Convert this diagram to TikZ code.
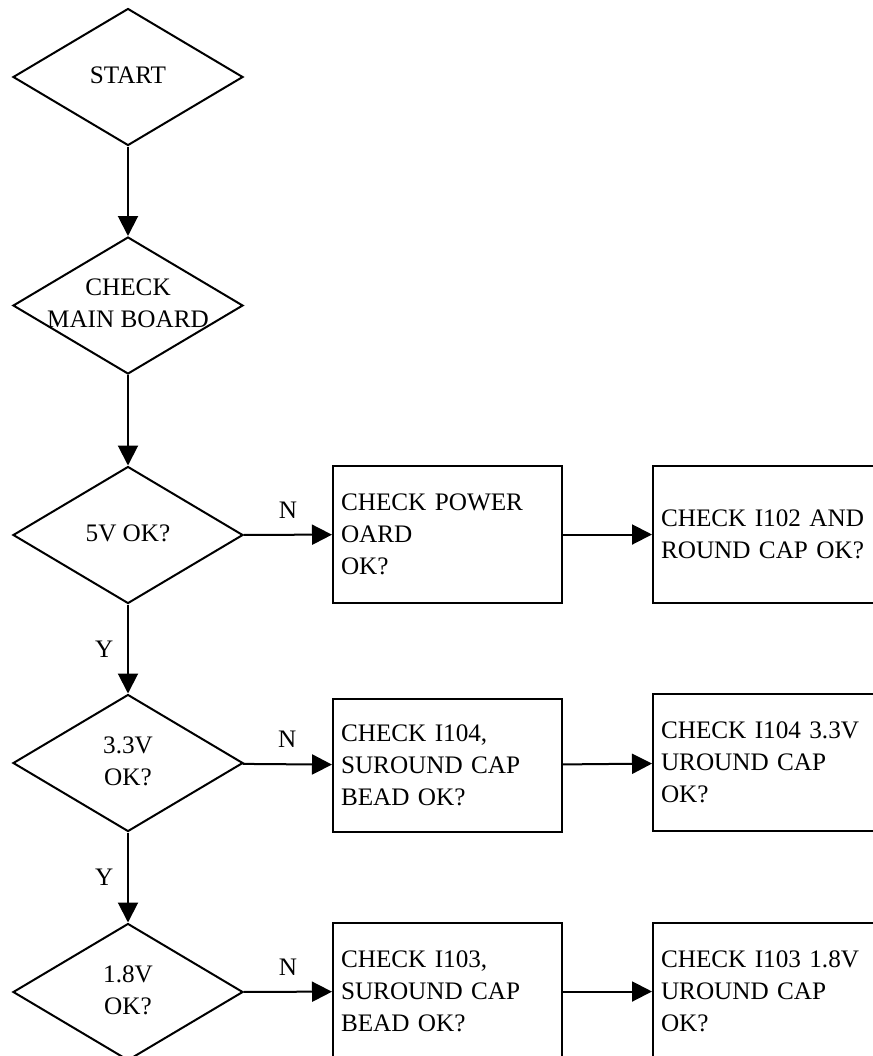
\documentclass[tikz,border=0pt]{standalone}
\usepackage{fontspec}
\setmainfont{Liberation Serif}
\usetikzlibrary{arrows.meta, shapes.geometric}
% zero-width centred text, so long lines may run over the diamond
\newcommand{\dtext}[1]{\makebox[0pt]{\begin{tabular}{@{}c@{}}#1\end{tabular}}}
\tikzset{
  decision/.style={draw, diamond, line width=1pt, minimum width=115pt,
    minimum height=68.5pt, inner sep=0pt},
  checkbox/.style={draw, rectangle, line width=1pt, minimum height=68.5pt,
    text width=106.5pt, inner xsep=4pt, inner ysep=0pt, align=left},
  flow/.style={-{Triangle[length=10pt,width=10pt]}, line width=1pt}
}

\begin{document}
\begin{tikzpicture}[x=0.5pt, y=-0.5pt, font=\fontsize{12.6}{16}\selectfont]
  \useasboundingbox (0,0) rectangle (873,1056);
  % Main column
  \node[decision] (st) at (128,77) {\dtext{START}};
  \node[decision] (mb) at (128,305.5) {\dtext{CHECK\\MAIN BOARD}};
  \node[decision] (v5) at (128,535) {\dtext{5V OK?}};
  \node[decision] (v33) at (128,763) {\dtext{3.3V\\OK?}};
  \node[decision] (v18) at (128,992) {\dtext{1.8V\\OK?}};
  % Checks
  \node[checkbox] (pb) at (447.5,534.5) {CHECK POWER\\OARD\\OK?};
  \node[checkbox] (i102) at (767.5,534.5) {CHECK I102 AND\\ROUND CAP OK?};
  \node[checkbox, minimum height=66.5pt] (i104) at (447.5,765.5)
        {CHECK I104,\\SUROUND CAP\\BEAD OK?};
  \node[checkbox] (i104v) at (767.5,762.5) {CHECK I104 3.3V\\UROUND CAP\\OK?};
  \node[checkbox] (i103) at (447.5,991.5) {CHECK I103,\\SUROUND CAP\\BEAD OK?};
  \node[checkbox] (i103v) at (767.5,991.5) {CHECK I103 1.8V\\UROUND CAP\\OK?};
  % Arrows
  \draw[flow] (st) -- (mb);
  \draw[flow] (mb) -- (v5);
  \draw[flow] (v5) -- node[left=3.5pt] {Y} (v33);
  \draw[flow] (v33) -- node[left=3.5pt] {Y} (v18);
  \draw[flow] (v5) -- node[above=4.5pt] {N} (pb);
  \draw[flow] (v33) -- node[above=4.5pt] {N} (i104);
  \draw[flow] (v18) -- node[above=4.5pt] {N} (i103);
  \draw[flow] (pb) -- (i102);
  \draw[flow] (i104) -- (i104v);
  \draw[flow] (i103) -- (i103v);
\end{tikzpicture}
\end{document}
